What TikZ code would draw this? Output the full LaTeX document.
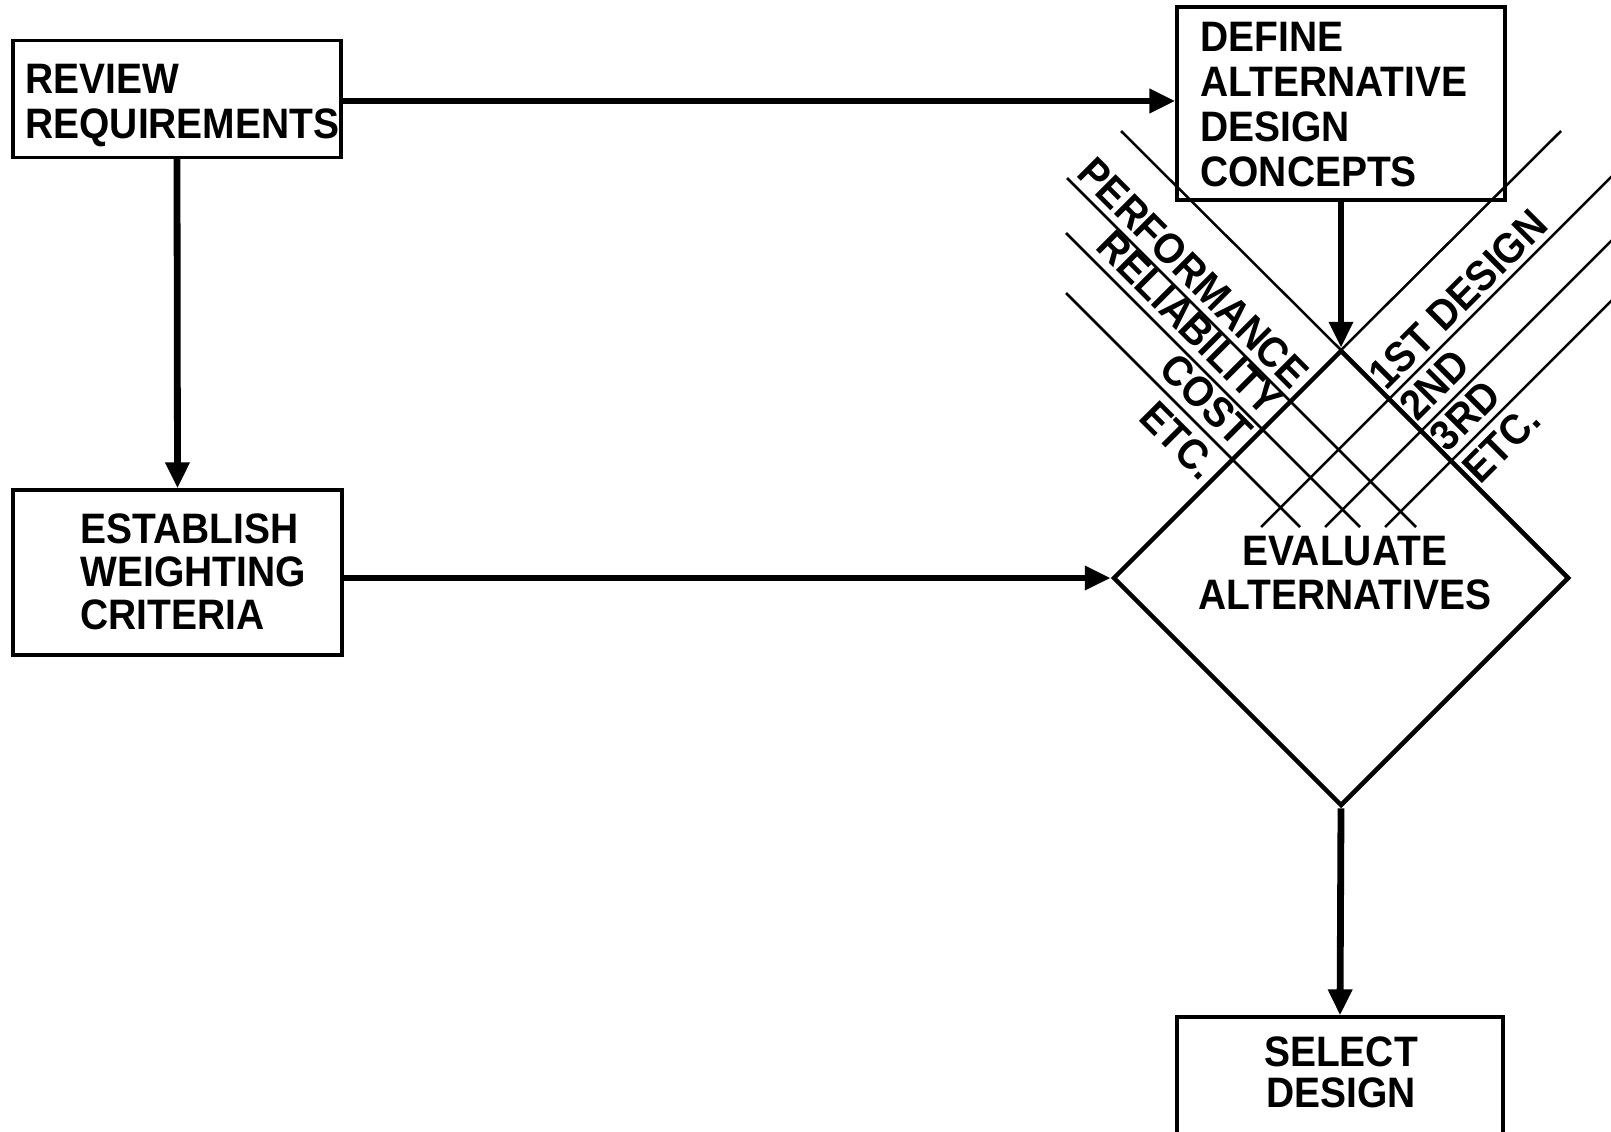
\documentclass[tikz,border=0pt]{standalone}
\usepackage{fontspec}
\newfontfamily\diagfont{Liberation Sans}[FakeStretch=0.915]
\usetikzlibrary{arrows.meta,shapes.geometric}
\begin{document}
\begin{tikzpicture}[x=0.5pt,y=-0.5pt,
  boxnode/.style={draw, line width=1.6pt, rectangle, inner sep=0pt},
  blocktext/.style={font=\diagfont\bfseries\fontsize{21.3pt}{#1}\selectfont, inner sep=0pt, text width=200pt},
  blocktext/.default=22.5pt,
  gridlabel/.style={font=\diagfont\bfseries\fontsize{21.3pt}{22.5pt}\selectfont, inner sep=0pt},
  arr/.style={line width=3.4pt, -{Triangle[length=13pt,width=11.5pt]}},
  gridline/.style={line width=1.25pt},
]
\useasboundingbox (0,0) rectangle (1611,1131);

% boxes
\node[boxnode, minimum width=164pt, minimum height=58.5pt] (review) at (177,99) {};
\node[boxnode, minimum width=164.5pt, minimum height=82.5pt] (estab) at (177.5,572.5) {};
\node[boxnode, minimum width=164pt, minimum height=96.5pt] (define) at (1341,103.5) {};
\node[boxnode, minimum width=163pt, minimum height=59.5pt] (select) at (1340,1076.5) {};
\node[draw, diamond, aspect=1, line width=2.25pt, inner sep=0pt, minimum width=228pt, minimum height=228pt] (dia) at (1341,578) {};

% box texts
\node[blocktext, align=left, anchor=base west] (reviewtxt) at (25,93) {REVIEW\\REQUIREMENTS};
\node[blocktext=21.5pt, align=left, anchor=base west] (estabtxt) at (80,543) {ESTABLISH\\WEIGHTING\\CRITERIA};
\node[blocktext, align=left, anchor=base west] (definetxt) at (1200,51) {DEFINE\\ALTERNATIVE\\DESIGN\\CONCEPTS};
\node[blocktext=22pt, align=center, anchor=base] (evaltxt) at (1345,565) {EVALUATE\\ALTERNATIVES};
\node[blocktext=20.5pt, align=center, anchor=base] (selecttxt) at (1341,1066) {SELECT\\DESIGN};

% grid lines
\draw[gridline] (1121,131) -- (1341,350);
\draw[gridline] (1341,350) -- (1561,131);
\draw[gridline] (1067,178) -- (1416,527);
\draw[gridline] (1066,233) -- (1360,527);
\draw[gridline] (1066,293) -- (1300,527);
\draw[gridline] (1261,527) -- (1620,168);
\draw[gridline] (1325,527) -- (1620,232);
\draw[gridline] (1385,527) -- (1620,292);

% grid labels
\node[gridlabel, rotate=-45, anchor=base east] (perf) at (1291.5,391.5) {PERFORMANCE};
\node[gridlabel, rotate=-45, anchor=base east] (rel) at (1264.5,418.5) {RELIABILITY};
\node[gridlabel, rotate=-45, anchor=base east] (cost) at (1234.5,448.5) {COST};
\node[gridlabel, rotate=-45, anchor=base east] (etcl) at (1200.5,482.5) {ETC.};
\node[gridlabel, rotate=45, anchor=base west] (des1) at (1386,392) {1ST DESIGN};
\node[gridlabel, rotate=45, anchor=base west] (des2) at (1417,423) {2ND};
\node[gridlabel, rotate=45, anchor=base west] (des3) at (1447.5,453.5) {3RD};
\node[gridlabel, rotate=45, anchor=base west] (etcr) at (1480,486) {ETC.};

% arrows
\coordinate (toprow) at (0,101);
\draw[arr] (review.east |- toprow) -- (define.west |- toprow);
\draw[arr] (review.south) -- (estab.north);
\draw[arr] (estab.east |- dia.west) -- (dia.west);
\draw[arr] (define.south) -- (dia.north);
\draw[arr] (dia.south) -- (select.north);
\end{tikzpicture}
\end{document}
